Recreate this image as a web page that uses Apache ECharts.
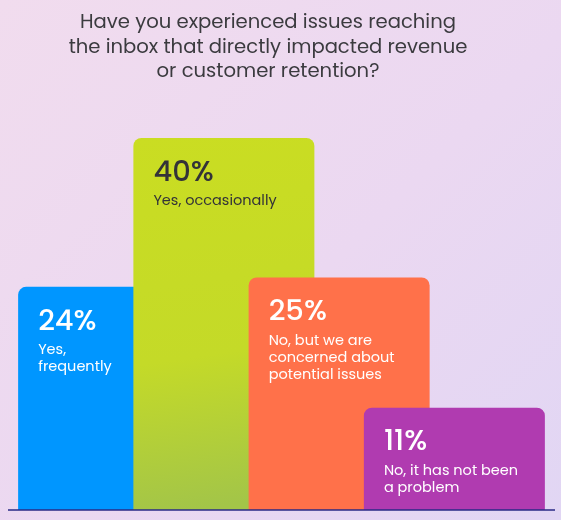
<!DOCTYPE html>
<html>
<head>
<meta charset="utf-8">
<title>Inbox issues survey</title>
<script src="https://cdn.jsdelivr.net/npm/echarts@6/dist/echarts.min.js"></script>
<style>
    html, body { margin: 0; padding: 0; }
    #main {
        width: 561px;
        height: 520px;
        background: linear-gradient(135deg, #f1dcee 0%, #ebd8f1 55%, #e1d6f4 100%);
    }
</style>
</head>
<body>
<div id="main"></div>
<script>
// survey answers and share of respondents (%)
var categories = ['Yes, frequently', 'Yes, occasionally', 'No, but concerned', 'No problem'];
var values = [24, 40, 25, 11];
var answers = [
    'Yes,\nfrequently',
    'Yes, occasionally',
    'No, but we are\nconcerned about\npotential issues',
    'No, it has not been\na problem'
];

var barColors = [
    '#0096ff',
    new echarts.graphic.LinearGradient(0, 0, 0.3, 1, [
        { offset: 0, color: '#cadd22' },
        { offset: 0.6, color: '#c4da28' },
        { offset: 1, color: '#a3c548' }
    ]),
    '#ff714a',
    '#b03bb0'
];
var textColors = ['#ffffff', '#333338', '#ffffff', '#ffffff'];
var fontName = 'Poppins, "Noto Sans", sans-serif';

window.addEventListener('load', function () {
    var myChart = echarts.init(document.getElementById('main'));

    var option = {
        title: {
            text: 'Have you experienced issues reaching\nthe inbox that directly impacted revenue\nor customer retention?',
            left: 263,
            top: 6,
            textAlign: 'center',
            textStyle: {
                color: '#3b3b3f',
                fontFamily: fontName,
                fontWeight: 'normal',
                fontSize: 19.6,
                lineHeight: 24.5,
                align: 'center'
            }
        },
        grid: { left: 51, right: 49, top: 45, bottom: 10 },
        xAxis: {
            type: 'category',
            data: categories,
            show: false
        },
        yAxis: {
            type: 'value',
            min: 0,
            max: 50,
            show: false
        },
        series: [{
            type: 'custom',
            data: values.map(function (v, i) { return [i, v]; }),
            encode: { x: 0, y: 1 },
            renderItem: function (params, api) {
                var i = api.value(0);
                var top = api.coord([i, api.value(1)]);
                var base = api.coord([i, 0]);
                var w = 181;
                var x = top[0] - w / 2;
                return {
                    type: 'group',
                    children: [{
                        type: 'rect',
                        shape: { x: x, y: top[1], width: w, height: base[1] - top[1], r: [8, 8, 0, 0] },
                        style: { fill: barColors[i] }
                    }, {
                        type: 'text',
                        x: x + 20,
                        y: top[1] + 21,
                        style: {
                            text: values[i] + '%',
                            fill: textColors[i],
                            fontFamily: fontName,
                            fontSize: 29,
                            fontWeight: 500,
                            verticalAlign: 'top'
                        }
                    }, {
                        type: 'text',
                        x: x + 20,
                        y: top[1] + 55,
                        style: {
                            text: answers[i],
                            fill: textColors[i],
                            fontFamily: fontName,
                            fontSize: 14.5,
                            lineHeight: 17,
                            verticalAlign: 'top'
                        }
                    }]
                };
            }
        }],
        graphic: [{
            type: 'line',
            z: 100,
            shape: { x1: 8, y1: 510, x2: 555, y2: 510 },
            style: { stroke: '#282a86', lineWidth: 1.5 }
        }]
    };

    myChart.setOption(option);
});
</script>
</body>
</html>
